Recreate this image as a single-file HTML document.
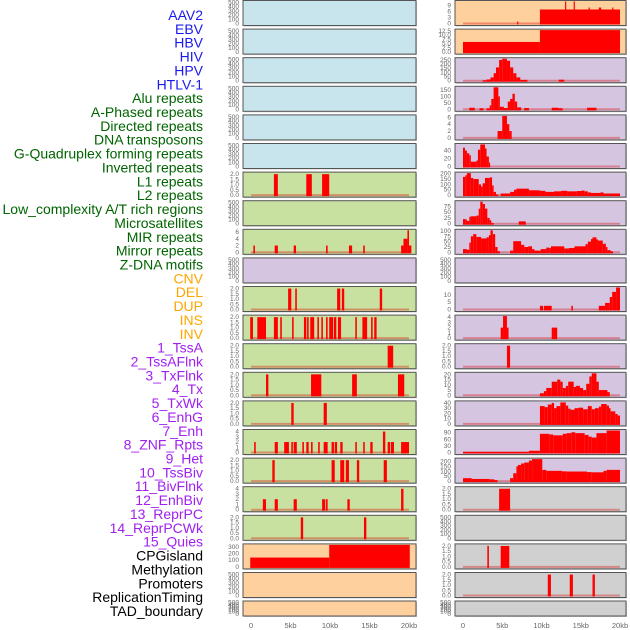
<!DOCTYPE html>
<html><head><meta charset="utf-8">
<style>
html,body{margin:0;padding:0;background:#fff;}
svg{display:block;font-family:"Liberation Sans",sans-serif;}
</style></head>
<body>
<svg id="chart" width="630" height="630" viewBox="0 0 630 630">
<g id="labels"></g>
<g id="panels"></g>
<g id="xaxes"></g>
</svg>
<script>
const trackLabels = ["AAV2","EBV","HBV","HIV","HPV","HTLV-1","Alu repeats","A-Phased repeats","Directed repeats","DNA transposons","G-Quadruplex forming repeats","Inverted repeats","L1 repeats","L2 repeats","Low_complexity A/T rich regions","Microsatellites","MIR repeats","Mirror repeats","Z-DNA motifs","CNV","DEL","DUP","INS","INV","1_TssA","2_TssAFlnk","3_TxFlnk","4_Tx","5_TxWk","6_EnhG","7_Enh","8_ZNF_Rpts","9_Het","10_TssBiv","11_BivFlnk","12_EnhBiv","13_ReprPC","14_ReprPCWk","15_Quies","CPGisland","Methylation","Promoters","ReplicationTiming","TAD_boundary"];
const labelColors = ["#1a1aee","#1a1aee","#1a1aee","#1a1aee","#1a1aee","#1a1aee","#006400","#006400","#006400","#006400","#006400","#006400","#006400","#006400","#006400","#006400","#006400","#006400","#006400","#ffa500","#ffa500","#ffa500","#ffa500","#ffa500","#a020f0","#a020f0","#a020f0","#a020f0","#a020f0","#a020f0","#a020f0","#a020f0","#a020f0","#a020f0","#a020f0","#a020f0","#a020f0","#a020f0","#a020f0","#000","#000","#000","#000","#000"];
const xTickValues = [0,5,10,15,20];
const xTickLabels = ["0","5kb","10kb","15kb","20kb"];

const B="#c8e4ec",O="#fed09e",L="#d5c5e1",G="#c8e0a0",R="#d0d0d0";
const E=[0,100,200,300,400,500], T2=[0,0.5,1,1.5,2];
const leftColors=[B,B,B,B,B,B,G,G,G,L,G,G,G,G,G,G,G,G,G,O,O,O];
const leftTicks=[E,E,E,E,E,E,T2,E,[0,2,4,6],E,T2,T2,T2,T2,T2,[0,1,2,3,4],T2,[0,1,2,3,4],T2,[0,100,200,300],E,E];
const leftYMax=[525,525,525,525,525,525,2.1,525,6.5,525,2.1,2.1,2.1,2.1,2.1,4.2,2.1,4.2,2.1,330,525,525];
const leftSegs=[[],[],[],[],[],[],
[[2.9,3.4,2],[7.0,7.7,2],[9.0,9.9,2]],
[],
[[0.3,0.5,2],[3.0,3.4,2],[5.4,5.7,2],[9.5,9.7,2],[12.4,12.8,2],[14.2,14.4,2],[19.0,19.3,2],[19.3,19.8,4],[19.8,20.0,6.5],[20.0,20.3,2]],
[],
[[4.7,5.1,2],[5.6,5.8,2],[10.9,11.3,2],[11.5,11.8,2],[16.3,16.6,2]],
[[-0.1,0.25,2],[0.8,1.9,2],[2.9,3.4,2],[3.7,3.9,2],[5.2,5.4,2],[6.7,7.0,2],[7.1,7.3,2],[7.5,8.0,2],[8.4,8.6,2],[8.9,9.1,2],[9.5,9.7,2],[9.9,10.4,2],[10.5,10.8,2],[11.0,11.4,2],[13.2,13.4,2],[14.1,14.7,2],[15.2,15.4,2],[15.6,15.9,2]],
[[17.3,18.0,2]],
[[1.9,2.2,2],[7.6,8.9,2],[12.8,13.4,2],[18.6,19.4,2]],
[[5.1,5.4,2],[9.2,9.6,2]],
[[0.4,0.6,2],[3.0,3.4,2],[4.2,4.8,2],[5.1,5.3,2],[5.4,5.8,2],[6.5,6.7,2],[7.0,7.3,2],[7.6,7.8,2],[8.5,8.7,2],[9.2,9.7,2],[10.2,10.5,2],[10.6,10.9,2],[11.3,11.6,2],[13.2,13.4,2],[14.2,14.4,2],[15.1,15.4,2],[16.7,17.0,4],[17.3,17.6,2],[17.7,18.1,2],[19.0,20.0,2]],
[[2.7,3.0,2],[10.2,10.6,2],[11.3,11.8,2],[12.0,12.4,2],[13.4,13.7,2],[16.8,17.2,2]],
[[1.5,1.9,2],[3.0,3.4,2],[5.4,5.8,2],[9.0,9.4,2],[9.5,9.7,2],[12.2,12.5,2],[19.0,19.3,4]],
[[6.3,6.6,2],[14.3,14.6,2]],
[[-0.1,9.9,140],[9.9,20.1,400]],
[],[]];

const rightColors=[O,O,L,L,L,L,L,L,L,L,L,L,L,L,L,L,L,R,R,R,R,R];
const rightTicks=[[0,3,6,9],[0,2.5,5,7.5,10,12.5],[0,50,100,150,200,250],[0,50,100,150],[0,2,4,6],[0,20,40],[0,50,100,150,200],[0,25,50,75],[0,25,50,75,100],E,[0,5,10],[0,1,2,3,4],T2,[0,5,10,15,20],[0,10,20,30,40],[0,30,60,90],[0,50,100,150,200],T2,E,T2,T2,E];
const rightYMax=[11,13,265,170,6.4,55,205,95,103,525,15,4.2,2.1,21,42,100,225,2.1,525,2.1,2.1,525];
const rightSegs=[
[[6.9,7.0,1],[9.8,20,7],[13.0,13.1,12],[14.1,14.2,12],[16.0,16.1,8],[17.3,17.6,8],[19.0,19.1,8]],
[[0,9.8,6],[9.8,20,13]],
[[2.5,3.0,5],[3.0,3.5,15],[3.5,3.9,40],[3.9,4.2,90],[4.2,4.6,160],[4.6,5.0,250],[5.0,5.6,265],[5.6,6.0,240],[6.0,6.4,160],[6.4,6.8,90],[6.8,7.3,40],[7.3,8.2,10],[12.2,12.9,12]],
[[0.8,1.5,12],[2.1,2.6,8],[3.0,3.4,8],[3.4,3.6,30],[3.6,3.9,80],[3.9,4.5,170],[4.5,4.7,100],[4.7,5.2,20],[5.2,5.7,10],[5.7,6.0,60],[6.0,6.3,80],[6.3,6.6,120],[6.6,6.9,60],[6.9,7.4,15],[7.8,8.4,10],[11.3,12.2,12],[12.2,12.7,8],[15.8,17.0,12]],
[[4.4,5.0,2],[5.0,5.6,6.4],[5.6,5.9,4],[5.9,6.2,2]],
[[0,0.25,47],[0.25,0.5,40],[0.5,0.8,33],[0.8,1.0,28],[1.0,1.7,12],[1.7,1.9,15],[1.9,2.2,42],[2.2,2.8,55],[2.8,3.0,45],[3.0,3.3,25],[3.3,3.4,10]],
[[0,0.3,170],[0.3,0.5,185],[0.5,1.0,205],[1.0,1.3,160],[1.3,2.0,150],[2.0,2.3,100],[2.3,2.5,80],[2.5,2.8,110],[2.8,3.4,160],[3.4,3.7,165],[3.7,3.9,90],[3.9,4.2,30],[4.2,4.5,5],[4.8,6.0,15],[6.0,6.5,30],[6.5,6.8,50],[6.8,8.4,60],[8.4,9.8,45],[9.8,10.5,40],[10.5,11.6,30],[11.6,12.5,35],[12.5,13.3,40],[13.3,14.5,35],[14.5,15.1,38],[15.1,15.5,42],[15.5,15.9,35],[15.9,16.3,25],[16.3,17.5,20],[17.5,17.9,25],[17.9,20,15]],
[[0,0.3,20],[0.3,0.5,18],[0.5,0.8,12],[0.8,1.0,30],[1.0,1.7,32],[1.7,2.0,35],[2.0,2.2,65],[2.2,2.5,95],[2.5,2.8,85],[2.8,3.1,65],[3.1,3.4,25],[3.4,3.6,15],[3.6,3.9,3],[7.1,8.0,10]],
[[0,0.5,15],[0.5,0.8,12],[0.8,1.0,45],[1.0,1.3,75],[1.3,1.7,85],[1.7,2.3,72],[2.3,3.0,65],[3.0,3.3,70],[3.3,3.5,80],[3.5,3.8,103],[3.8,4.1,85],[4.1,4.4,25],[4.4,4.7,5],[6.0,6.4,8],[6.4,7.4,52],[7.4,7.8,35],[7.8,8.3,25],[8.3,8.8,28],[8.8,9.1,15],[9.1,9.9,8],[9.9,10.6,15],[10.6,11.0,22],[11.0,11.2,20],[11.2,12.9,28],[12.9,13.5,18],[13.5,14.2,20],[14.2,15.6,28],[15.6,15.9,38],[15.9,16.3,50],[16.3,16.5,62],[16.5,17.0,70],[17.0,17.2,60],[17.2,17.8,55],[17.8,18.2,40],[18.2,18.4,25],[18.4,18.8,10],[18.8,19.1,5]],
[],
[[9.8,10.2,2.5],[10.3,11.3,2.5],[13.8,14.0,2.5],[17.3,18.1,2.5],[18.1,18.7,4.5],[18.7,19.0,8.5],[19.0,19.5,12],[19.5,20,15]],
[[4.8,5.1,2],[5.1,5.6,4.2],[5.6,5.8,2],[11.3,12.0,2]],
[[5.6,6.0,2]],
[[9.8,10.3,2],[10.3,10.6,4],[10.6,11.3,7],[11.3,12.0,13],[12.0,12.4,15],[12.4,12.7,13],[12.7,13.1,7],[13.1,13.4,9],[13.4,14.1,13],[14.1,14.4,8],[14.4,14.9,9],[14.9,15.3,7],[15.3,15.7,5],[15.7,16.1,11],[16.1,16.4,18],[16.4,17.0,21],[17.0,17.3,13],[17.3,18.4,5],[18.4,18.7,3]],
[[9.8,10.4,34],[10.4,10.8,32],[10.8,11.3,37],[11.3,11.6,40],[11.6,11.9,30],[11.9,12.4,34],[12.4,13.1,41],[13.1,13.4,35],[13.4,13.7,29],[13.7,14.2,27],[14.2,14.7,30],[14.7,15.3,31],[15.3,15.9,28],[15.9,16.4,34],[16.4,16.8,28],[16.8,17.3,30],[17.3,17.6,33],[17.6,18.3,38],[18.3,18.6,35],[18.6,18.8,30],[18.8,19.4,24],[19.4,19.7,19],[19.7,20,16]],
[[0,8.4,3],[8.4,9.8,8],[9.8,11.0,85],[11.0,11.5,82],[11.5,12.7,78],[12.7,13.2,85],[13.2,13.8,88],[13.8,14.3,92],[14.3,15.5,88],[15.5,16.0,80],[16.0,16.4,72],[16.4,17.0,68],[17.0,18.3,88],[18.3,20,100]],
[[0,1.1,30],[1.1,3.4,22],[3.4,4.0,18],[4.0,4.4,10],[6.0,6.4,30],[6.4,6.8,80],[6.8,7.0,150],[7.0,7.4,165],[7.4,7.8,180],[7.8,8.4,190],[8.4,8.8,210],[8.8,10.1,225],[10.1,10.6,115],[10.6,12.6,105],[12.6,13.2,100],[13.2,15.8,98],[15.8,16.4,92],[16.4,17.9,90],[17.9,18.3,105],[18.3,20,115]],
[[4.6,6.0,2]],
[],
[[3.1,3.3,2],[4.8,5.9,2]],
[[10.8,11.2,2],[13.6,14.0,2],[16.5,16.8,2]],
[]];

const NS="http://www.w3.org/2000/svg";
function mk(tag,attrs,parent){const e=document.createElementNS(NS,tag);for(const k in attrs)e.setAttribute(k,attrs[k]);parent.appendChild(e);return e;}
function fmt(v,ticks){const dec=ticks.some(t=>t%1!==0);return dec?v.toFixed(1):String(v);}

// labels
const lg=document.getElementById('labels');
trackLabels.forEach((t,i)=>{
  const el=mk('text',{x:203,y:(20+i*13.86).toFixed(1),'text-anchor':'end','font-size':'14',fill:labelColors[i]},lg);
  el.textContent=t;
  
  
});

const pg=document.getElementById('panels');
function rowGeom(i){ if(i===21) return {top:601,h:15}; return {top:0.5+i*28.6,h:25}; }
function drawPanel(side,i,px,pw,x0,x1,color,ticks,ymax,segs){
  const {top,h}=rowGeom(i);
  const g=mk('g',{},pg);
  
  
  mk('rect',{x:px+1,y:top+1,width:pw,height:h,fill:'#999',opacity:0.5},g);
  mk('rect',{x:px,y:top,width:pw,height:h,fill:color,stroke:'#555','stroke-width':1},g);
  const yb=top+h-2, yt=top+1;
  const yS=v=>yb-(Math.min(v,ymax)/ymax)*(yb-yt);
  const xS=v=>x0+(v/20)*(x1-x0);
  ticks.forEach(t=>{
    const tx=mk('text',{x:px-4,y:(yS(t)+2).toFixed(1),'text-anchor':'end','font-size':'6.5',fill:'#666'},g);
    tx.textContent=fmt(t,ticks);
    
    
  });
  if(segs.length){
    const bl=mk('line',{x1:xS(0),x2:xS(20),y1:yb,y2:yb,stroke:'rgba(220,0,0,0.35)','stroke-width':2},g);
    
    
  }
  segs.forEach(s=>{
    const a=Math.max(xS(s[0]),px+1), b=Math.min(xS(s[1]),px+pw-1);
    const y=yS(s[2]);
    const r=mk('rect',{x:a.toFixed(2),y:y.toFixed(2),width:Math.max(1.2,b-a).toFixed(2),height:(yb-y+1).toFixed(2),fill:'#ff0000'},g);
    
    
  });
}
for(let i=0;i<22;i++){
  drawPanel('left',i,243,173,251,409,leftColors[i],leftTicks[i],leftYMax[i],leftSegs[i]);
  drawPanel('right',i,455,171,463,620,rightColors[i],rightTicks[i],rightYMax[i],rightSegs[i]);
}
const xg=document.getElementById('xaxes');
[[251,409],[463,620]].forEach((r,k)=>{
  xTickValues.forEach((v,j)=>{
    const t=mk('text',{x:(r[0]+v/20*(r[1]-r[0])).toFixed(1),y:628,'text-anchor':'middle','font-size':'7.5',fill:'#666'},xg);
    t.textContent=xTickLabels[j];
    
    
  });
});
</script>
</body></html>
